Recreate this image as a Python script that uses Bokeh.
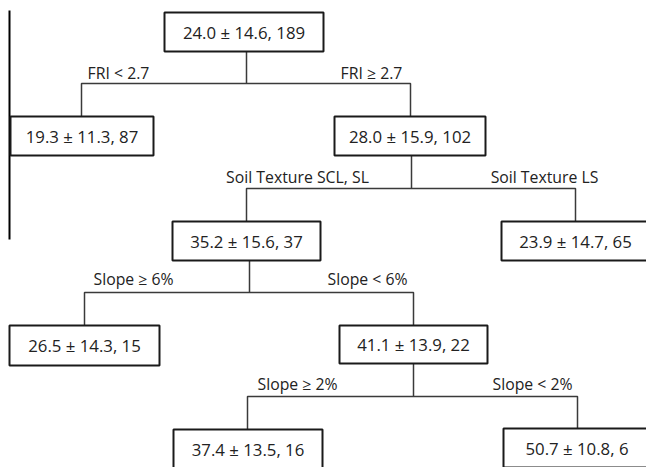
from bokeh.plotting import figure
from bokeh.models import Range1d, ColumnDataSource
from bokeh.core.properties import value
from bokeh.embed import file_html
from bokeh.resources import INLINE

# ---------------- data ----------------
node_ids = ["root", "fri_lo", "fri_hi", "soil_scl", "soil_ls",
            "slope_ge6", "slope_lt6", "slope_ge2", "slope_lt2"]
node_means = [24.0, 19.3, 28.0, 35.2, 23.9, 26.5, 41.1, 37.4, 50.7]
node_sds = [14.6, 11.3, 15.9, 15.6, 14.7, 14.3, 13.9, 13.5, 10.8]
node_ns = [189, 87, 102, 37, 65, 15, 22, 16, 6]

split_parents = ["root", "fri_hi", "soil_scl", "slope_lt6"]
split_left_child = ["fri_lo", "soil_scl", "slope_ge6", "slope_ge2"]
split_right_child = ["fri_hi", "soil_ls", "slope_lt6", "slope_lt2"]
split_left_labels = ["FRI < 2.7", "Soil Texture SCL, SL", "Slope ≥ 6%", "Slope ≥ 2%"]
split_right_labels = ["FRI ≥ 2.7", "Soil Texture LS", "Slope < 6%", "Slope < 2%"]

# ---------------- layout (page pixels) ----------------
box_left = [164, 10, 334, 172, 501, 9, 339, 173, 503]
box_right = [323, 153, 485, 320, 649, 159, 487, 322, 650]
box_top = [12, 116, 116, 221, 221, 325, 325, 429, 428]
box_bottom = [51, 155, 155, 260, 260, 365, 363, 468, 467]

stem_x = [246, 411, 249, 413]
bar_y = [83, 188, 292, 396]
drop_left_x = [81, 246, 84, 247]
drop_right_x = [410, 575, 413, 577]
label_y = [72.5, 176, 278, 383]
label_left_x = [118, 297, 133, 297]
label_right_x = [371, 544, 367, 532]

FONT = "Open Sans"
FSIZE_BOX = "16.8px"
FSIZE_LAB = "15.8px"

idx = {n: i for i, n in enumerate(node_ids)}

p = figure(width=646, height=467, output_backend="svg", toolbar_location=None,
           x_range=Range1d(0, 646), y_range=Range1d(467, 0),
           min_border=0, min_border_left=0, min_border_right=0,
           min_border_top=0, min_border_bottom=0)
p.axis.visible = False
p.grid.visible = False
p.outline_line_color = None
p.background_fill_color = "white"
p.border_fill_color = "white"

# left vertical rule
p.segment(x0=[9], y0=[10], x1=[9], y1=[239], line_color="black", line_width=2)

# connectors
xs, ys = [], []
for k, par in enumerate(split_parents):
    pi = idx[par]
    li = idx[split_left_child[k]]
    ri = idx[split_right_child[k]]
    xs.append([stem_x[k], stem_x[k]])
    ys.append([box_bottom[pi], bar_y[k]])
    xs.append([drop_left_x[k], drop_left_x[k], drop_right_x[k], drop_right_x[k]])
    ys.append([box_top[li], bar_y[k], bar_y[k], box_top[ri]])
p.multi_line(xs=xs, ys=ys, line_color="#3a3a3a", line_width=1.5)

# boxes
box_src = ColumnDataSource(dict(
    left=box_left, right=box_right, top=box_top, bottom=box_bottom,
    cx=[(a + b) / 2 for a, b in zip(box_left, box_right)],
    cy=[(a + b) / 2 for a, b in zip(box_top, box_bottom)],
    txt=[f"{m:.1f} ± {s:.1f}, {n}" for m, s, n in zip(node_means, node_sds, node_ns)],
))
p.quad(left="left", right="right", top="top", bottom="bottom", source=box_src,
       fill_color="white", line_color="#1a1a1a", line_width=2)
p.text(x="cx", y="cy", text="txt", source=box_src, text_align="center",
       text_baseline="middle", text_font=value(FONT), text_font_size=FSIZE_BOX,
       text_color="#222222")

# split labels
lab_src = ColumnDataSource(dict(
    x=label_left_x + label_right_x,
    y=label_y + label_y,
    txt=split_left_labels + split_right_labels,
))
p.text(x="x", y="y", text="txt", source=lab_src, text_align="center",
       text_baseline="middle", text_font=value(FONT), text_font_size=FSIZE_LAB,
       text_color="#222222")

open("out.html", "w").write(file_html(p, INLINE))
